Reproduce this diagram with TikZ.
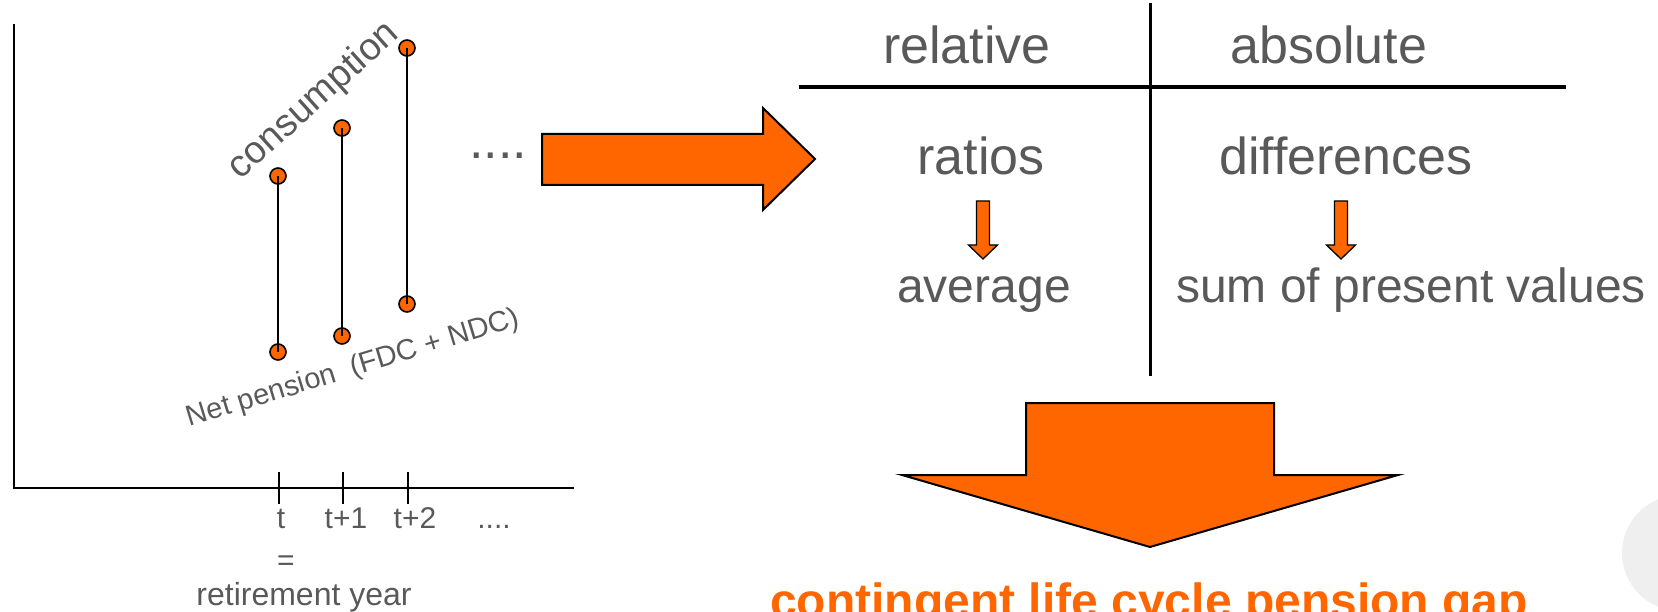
\documentclass[tikz,border=0pt]{standalone}
\usepackage{fontspec}
\setmainfont{Liberation Sans}
\definecolor{orng}{HTML}{FF6600}
\definecolor{txtgray}{HTML}{595959}
\definecolor{ghost}{HTML}{EFEFEF}
\begin{document}
\begin{tikzpicture}[x=1pt,y=-1pt,
  pdot/.style={circle,draw=black,line width=1.6pt,fill=orng,minimum size=16pt,inner sep=0pt},
  stemline/.style={line width=2pt},
  axisline/.style={line width=2pt},
  tblline/.style={line width=3.5pt},
  blockarrow/.style={draw=black,line width=2pt,fill=orng,line join=miter},
  lbl/.style={text=txtgray,inner sep=0pt,anchor=base},
  fbig/.style={font=\fontsize{52}{60}\selectfont},
  fmid/.style={font=\fontsize{48}{56}\selectfont},
  fsmall/.style={font=\fontsize{30}{36}\selectfont}]
\useasboundingbox (0,0) rectangle (1658,612);
% faint circle at right edge
\fill[ghost] (1680,553) circle (58);

% ---- graph ----
\coordinate (ytop) at (14,24);
\coordinate (orig) at (14,488);
\coordinate (xend) at (574,488);
\draw[axisline] (ytop) -- (orig) -- (xend);
\foreach \n/\x in {a/279,b/343,c/408}{
  \coordinate (tk\n1) at (\x,472);
  \coordinate (tk\n2) at (\x,504);
  \draw[axisline] (tk\n1) -- (tk\n2);
}
\node[lbl,fsmall] (lt) at (281,528) {t};
\node[lbl,fsmall] (lt1) at (346,528) {t+1};
\node[lbl,fsmall] (lt2) at (415,528) {t+2};
\node[lbl,fsmall] (ldots) at (494,528) {....};
\node[lbl,fsmall] (leq) at (286,570) {=};
\node[lbl,text=txtgray,font=\fontsize{32}{38}\selectfont] (lret) at (304,605) {retirement year};

\node[pdot] (c1) at (278,176) {};
\node[pdot] (n1) at (278,352) {};
\node[pdot] (c2) at (342,128) {};
\node[pdot] (n2) at (342,336) {};
\node[pdot] (c3) at (407,48) {};
\node[pdot] (n3) at (407,304) {};
\draw[stemline] (c1.center) -- (n1.center);
\draw[stemline] (c2.center) -- (n2.center);
\draw[stemline] (c3.center) -- (n3.center);

\node[text=txtgray,inner sep=0pt,rotate=42,font=\fontsize{38}{46}\selectfont] (cons) at (314,101) {consumption};
\node[text=txtgray,inner sep=0pt,rotate=17,font=\fontsize{29}{35}\selectfont] (netp) at (353,369) {Net pension~~(FDC + NDC)};

% ---- right arrow ----
\node[text=txtgray,inner sep=0pt,anchor=base west,font=\fontsize{52}{60}\selectfont] (dots) at (469,159) {....};
\draw[blockarrow] (542,134) -- (763,134) -- (763,108) -- (815,159) -- (763,210) -- (763,185) -- (542,185) -- cycle;

% ---- table ----
\coordinate (hl) at (799,87);
\coordinate (hr) at (1566,87);
\coordinate (vt) at (1150,3);
\coordinate (vb) at (1150,376);
\draw[tblline] (hl) -- (hr);
\draw[line width=3pt] (vt) -- (vb);
\node[lbl,fbig] (rel) at (967,64) {relative};
\node[lbl,fbig] (abs) at (1329,64) {absolute};
\node[lbl,fbig] (rat) at (981,175) {ratios};
\node[lbl,fbig] (dif) at (1346,175) {differences};
\node[lbl,fmid] (avg) at (984,303) {average};
\node[lbl,fmid] (spv) at (1411,303) {sum of present values};
\foreach \cx in {983,1341}{
  \draw[draw=black,line width=1.3pt,fill=orng,line join=miter]
    (\cx-6.5,201) -- (\cx+6.5,201) -- (\cx+6.5,245) -- (\cx+14.5,245) -- (\cx,259)
    -- (\cx-14.5,245) -- (\cx-6.5,245) -- cycle;
}

% ---- down arrow ----
\draw[blockarrow] (1026,403) -- (1274,403) -- (1274,475) -- (1398,475) -- (1150,547) -- (902,475) -- (1026,475) -- cycle;
\node[text=orng,inner sep=0pt,anchor=base,font=\bfseries\fontsize{48}{56}\selectfont] (gap) at (1149,617) {contingent life cycle pension gap};
\end{tikzpicture}
\end{document}
